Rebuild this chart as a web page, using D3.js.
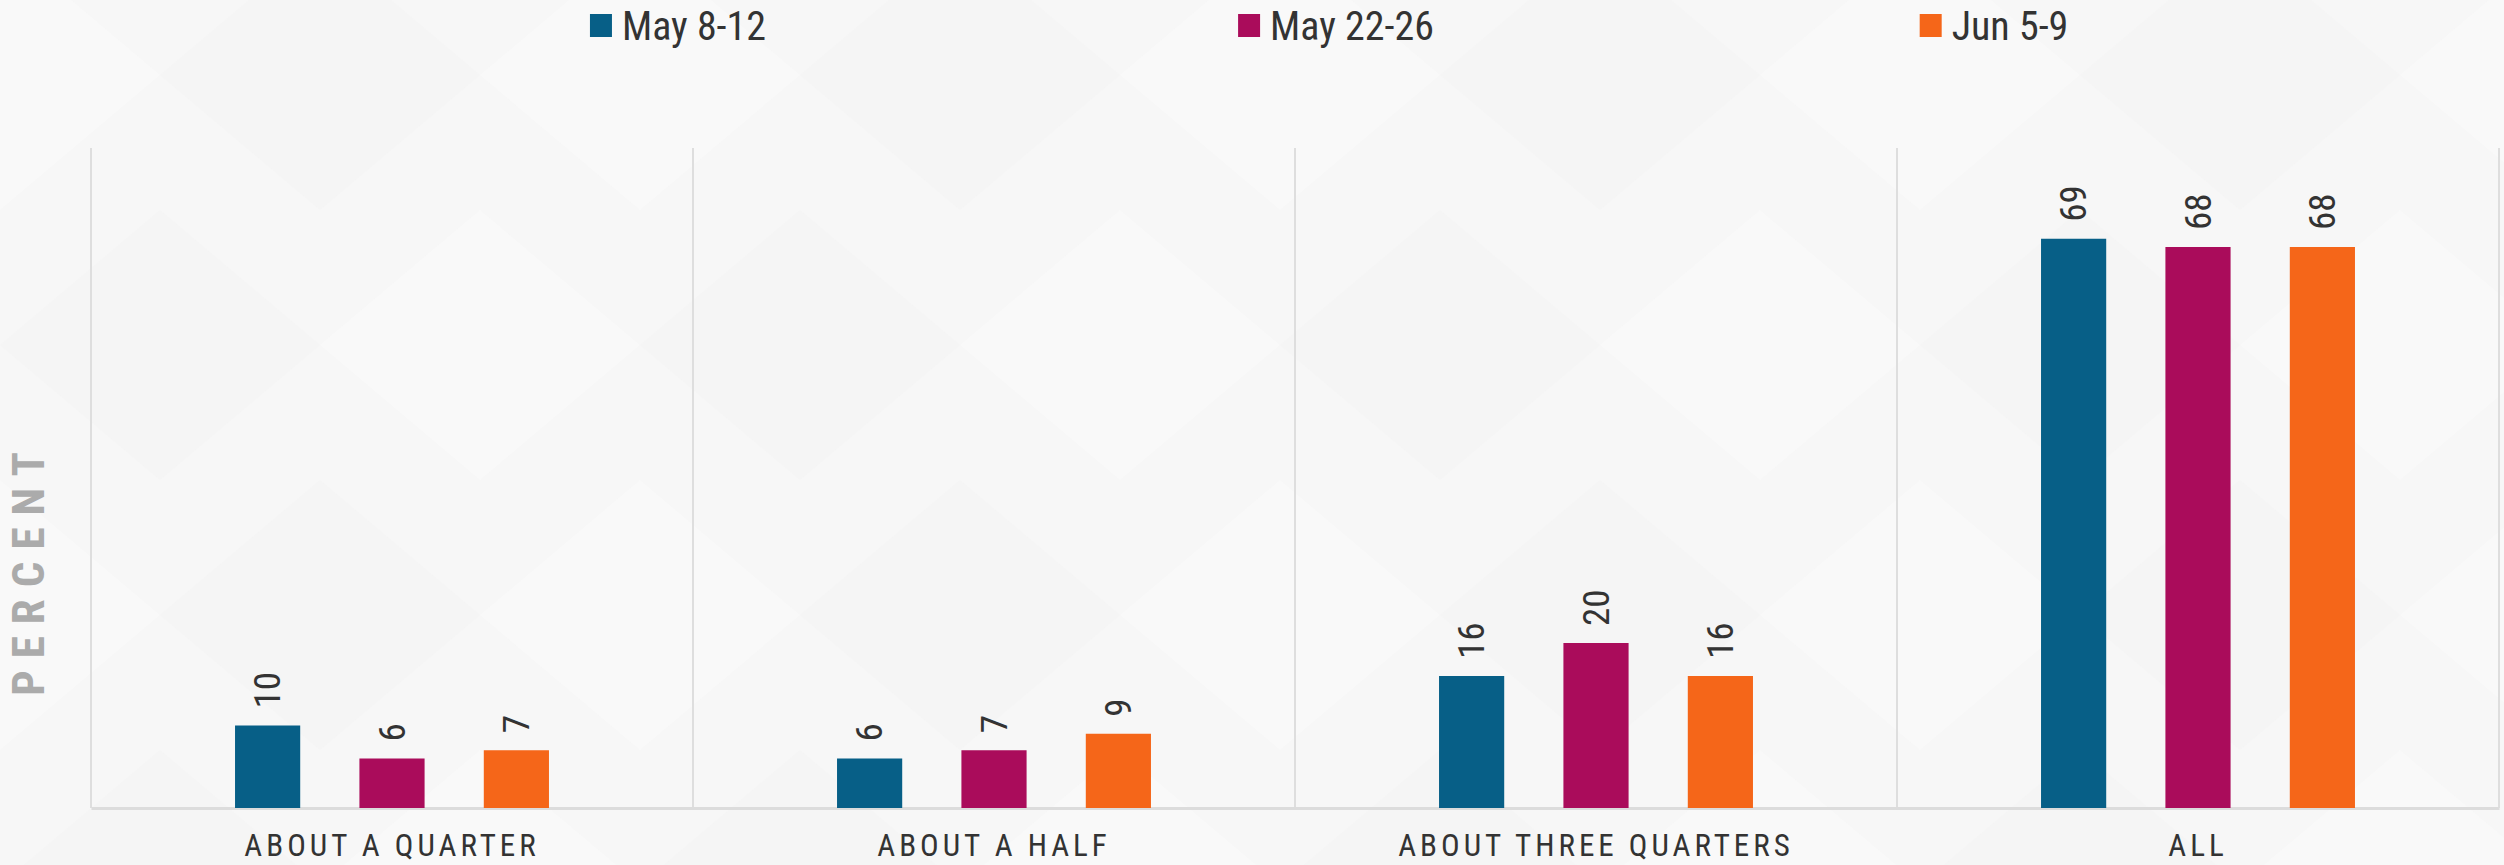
<!DOCTYPE html>
<html>
<head>
<meta charset="utf-8">
<script src="https://cdn.jsdelivr.net/npm/d3@7"></script>
<style>
  html, body { margin: 0; padding: 0; background: #f7f7f7; }
  svg { display: block; }
</style>
</head>
<body>
<svg id="chart" width="2504" height="865"></svg>
<script>
const categories = ["ABOUT A QUARTER", "ABOUT A HALF", "ABOUT THREE QUARTERS", "ALL"];
const series = ["May 8-12", "May 22-26", "Jun 5-9"];
const may8 = [10, 6, 16, 69];
const may22 = [6, 7, 20, 68];
const jun5 = [7, 9, 16, 68];
const values = [may8, may22, jun5];
const colors = ["#075f87", "#aa0c5b", "#f56619"];

const svg = d3.select("#chart");
const width = +svg.attr("width");
const height = +svg.attr("height");
const font = "'Liberation Sans Narrow', 'Roboto Condensed', 'Liberation Sans', sans-serif";

const margin = { top: 148, right: 5, bottom: 57, left: 91 };

// faint faceted background
const bg = svg.append("g");
bg.append("rect").attr("width", width).attr("height", height).attr("fill", "#f7f7f7");
const tri = 320;
for (let i = -1; i < width / tri + 1; i++) {
  for (let j = -1; j < 4; j++) {
    const x = i * tri + (j % 2 ? tri / 2 : 0);
    const y = j * 270 - 60;
    bg.append("path")
      .attr("d", d3.line()([[x, y], [x + tri / 2, y + 135], [x, y + 270], [x - tri / 2, y + 135]]) + "Z")
      .attr("fill", (i + j) % 2 ? "#f4f4f4" : "#fafafa")
      .attr("opacity", 0.6);
  }
}

const x0 = d3.scaleBand()
  .domain(categories)
  .range([margin.left, width - margin.right]);

const x1 = d3.scaleBand()
  .domain(series)
  .range([0, x0.bandwidth()])
  .paddingInner(0.476)
  .paddingOuter(1.158);

const y = d3.scaleLinear()
  .domain([0, 80])
  .range([height - margin.bottom, margin.top]);

// vertical separators
const grid = svg.append("g");
grid.selectAll("line")
  .data(categories.concat(["end"]))
  .join("line")
  .attr("x1", (d, i) => i < categories.length ? x0(d) : x0.range()[1])
  .attr("x2", (d, i) => i < categories.length ? x0(d) : x0.range()[1])
  .attr("y1", y(80))
  .attr("y2", y(0))
  .attr("stroke", "#dedede")
  .attr("stroke-width", 2);

// baseline + category labels
svg.append("g")
  .attr("transform", `translate(0,${y(0)})`)
  .call(d3.axisBottom(x0).tickSize(0).tickPadding(26))
  .call(g => g.select(".domain").attr("stroke", "#dcdcdc").attr("stroke-width", 3))
  .call(g => g.selectAll("text")
    .attr("font-family", font)
    .attr("font-size", 31)
    .attr("letter-spacing", 4)
    .attr("fill", "#333"));

// bars
const groups = svg.append("g")
  .selectAll("g")
  .data(categories)
  .join("g")
  .attr("transform", d => `translate(${x0(d)},0)`);

groups.selectAll("rect")
  .data((d, ci) => series.map((s, si) => ({ s, si, v: values[si][ci] })))
  .join("rect")
  .attr("x", d => x1(d.s))
  .attr("width", x1.bandwidth())
  .attr("y", d => y(d.v))
  .attr("height", d => y(0) - y(d.v))
  .attr("fill", d => colors[d.si]);

groups.selectAll("text")
  .data((d, ci) => series.map((s, si) => ({ s, si, v: values[si][ci] })))
  .join("text")
  .attr("transform", d => `translate(${x1(d.s) + x1.bandwidth() / 2},${y(d.v) - 17}) rotate(-90)`)
  .attr("dominant-baseline", "central")
  .attr("font-family", font)
  .attr("font-size", 37)
  .attr("fill", "#333")
  .text(d => d.v);

// y axis title
svg.append("text")
  .attr("transform", `translate(28,${(y(0) + y(80)) / 2 + 90}) rotate(-90)`)
  .attr("text-anchor", "middle")
  .attr("dominant-baseline", "central")
  .attr("font-family", font)
  .attr("font-weight", "bold")
  .attr("font-size", 45)
  .attr("letter-spacing", 12)
  .attr("fill", "#ababab")
  .text("PERCENT");

// legend
const lx = d3.scaleBand().domain(series).range([351, 2325]);
const legend = svg.append("g")
  .selectAll("g")
  .data(series)
  .join("g");

legend.append("text")
  .attr("x", d => lx(d) + lx.bandwidth() / 2 + 14)
  .attr("y", 26)
  .attr("dominant-baseline", "central")
  .attr("text-anchor", "middle")
  .attr("font-family", font)
  .attr("font-size", 40)
  .attr("fill", "#333")
  .text(d => d);

legend.each(function (d, i) {
  const g = d3.select(this);
  const bb = g.select("text").node().getBBox();
  g.append("rect")
    .attr("x", bb.x - 32)
    .attr("y", 14)
    .attr("width", 22)
    .attr("height", 23)
    .attr("fill", colors[i]);
});
</script>
</body>
</html>
